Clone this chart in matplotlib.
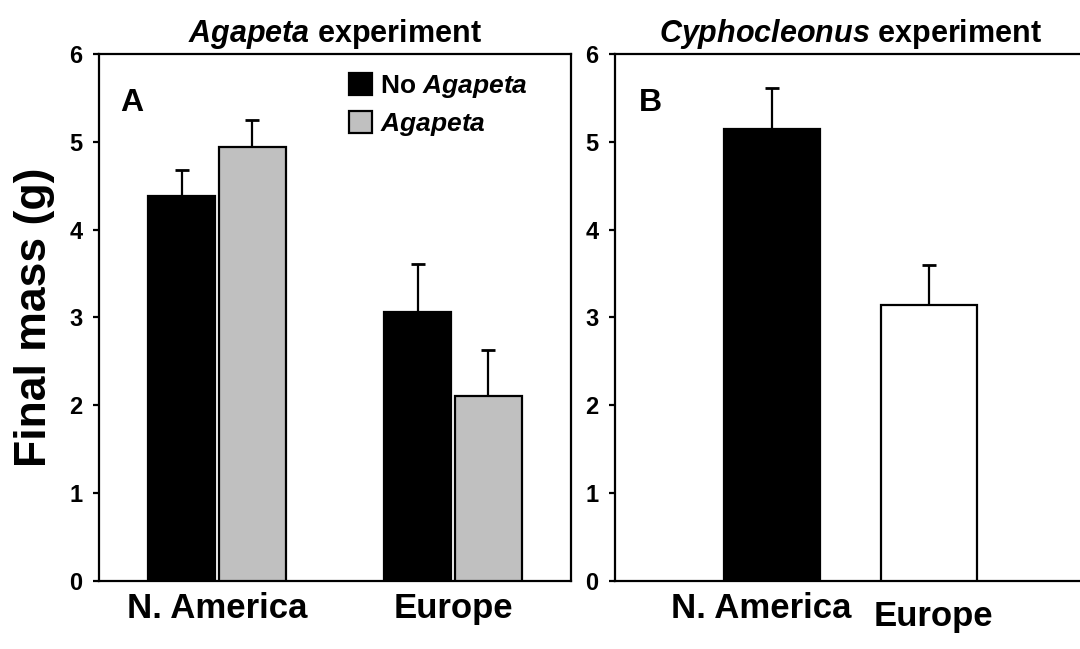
import matplotlib
matplotlib.use('Agg')
import matplotlib.pyplot as plt
from matplotlib.patches import Patch

plt.rcParams['font.family'] = ['Liberation Sans', 'DejaVu Sans']
plt.rcParams['font.weight'] = 'bold'
plt.rcParams['axes.titleweight'] = 'bold'
plt.rcParams['axes.labelweight'] = 'bold'
plt.rcParams['mathtext.fontset'] = 'custom'
plt.rcParams['mathtext.it'] = 'Liberation Sans:italic:bold'
plt.rcParams['mathtext.rm'] = 'Liberation Sans:bold'

# panel A: Agapeta experiment
regions_a = ['N. America', 'Europe']
no_agapeta = [4.38, 3.06]
no_agapeta_se = [0.30, 0.55]
agapeta = [4.94, 2.10]
agapeta_se = [0.31, 0.53]

# panel B: Cyphocleonus experiment
regions_b = ['N. America', 'Europe']
cypho_mass = [5.15, 3.14]
cypho_se = [0.47, 0.46]

GRAY = '#c0c0c0'
LW = 1.6

fig = plt.figure(figsize=(10.8, 6.49), dpi=100)
ax1 = fig.add_axes([0.0917, 0.1055, 0.437, 0.811])
ax2 = fig.add_axes([0.5694, 0.1055, 0.4361, 0.811])

x = [0, 1]
w = 0.285
xa = [i - 0.15 for i in x]
xb = [i + 0.15 for i in x]
ax1.bar(xa, no_agapeta, w, color='black', edgecolor='black', linewidth=LW, zorder=3)
ax1.bar(xb, agapeta, w, color=GRAY, edgecolor='black', linewidth=LW, zorder=3)
ax1.errorbar(xa, no_agapeta, yerr=[[0, 0], no_agapeta_se], fmt='none', ecolor='black',
             elinewidth=LW, capsize=4.7, capthick=2, zorder=2)
ax1.errorbar(xb, agapeta, yerr=[[0, 0], agapeta_se], fmt='none', ecolor='black',
             elinewidth=LW, capsize=4.7, capthick=2, zorder=2)
ax1.set_xlim(-0.5, 1.5)
ax1.set_xticks(x)
ax1.set_xticklabels(regions_a, fontsize=25, fontweight='bold')
ax1.set_title(r'$\mathit{Agapeta}$ experiment', fontsize=22, pad=9, fontweight='bold')
ax1.set_ylabel('Final mass (g)', fontsize=32, labelpad=10, fontweight='bold')
ax1.text(0.045, 0.935, 'A', transform=ax1.transAxes, fontsize=23, va='top', ha='left')

handles = [Patch(facecolor='black', edgecolor='black', linewidth=LW),
           Patch(facecolor=GRAY, edgecolor='black', linewidth=LW)]
ax1.legend(handles, [r'No $\mathit{Agapeta}$', r'$\mathit{Agapeta}$'],
           loc='upper left', bbox_to_anchor=(0.53, 0.965), frameon=False,
           prop={'size': 19, 'weight': 'bold'}, handlelength=0.85, handleheight=0.9,
           handletextpad=0.3, labelspacing=0.42, borderpad=0, borderaxespad=0)

xw = [0, 1]
ax2.bar(xw, cypho_mass, 0.61, color=['black', 'white'], edgecolor='black', linewidth=LW, zorder=3)
ax2.errorbar(xw, cypho_mass, yerr=[[0, 0], cypho_se], fmt='none', ecolor='black',
             elinewidth=LW, capsize=4.7, capthick=2, zorder=2)
ax2.set_xlim(-1, 2)
ax2.set_xticks([])
ax2.text(-0.07, -0.022, regions_b[0], transform=ax2.get_xaxis_transform(),
         fontsize=25, ha='center', va='top')
ax2.text(1.03, -0.037, regions_b[1], transform=ax2.get_xaxis_transform(),
         fontsize=25, ha='center', va='top')
ax2.set_title(r'$\mathit{Cyphocleonus}$ experiment', fontsize=22, pad=9, fontweight='bold')
ax2.text(0.05, 0.935, 'B', transform=ax2.transAxes, fontsize=23, va='top', ha='left')

for ax in (ax1, ax2):
    ax.set_ylim(0, 6)
    ax.set_yticks(range(7))
    ax.tick_params(axis='y', direction='out', length=4, width=LW, labelsize=17, pad=8)
    ax.tick_params(axis='x', length=0, pad=8)
    for lab in ax.get_yticklabels():
        lab.set_fontweight('bold')
    for s in ax.spines.values():
        s.set_linewidth(LW)

fig.savefig('out.png', dpi=100)
